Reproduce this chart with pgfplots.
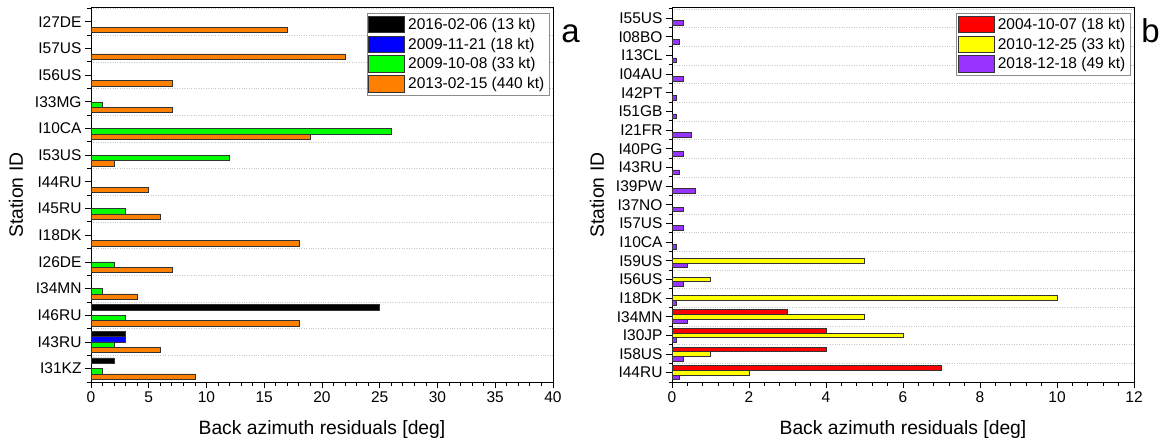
\documentclass[border=0pt]{standalone}
\usepackage{pgfplots}
\pgfplotsset{compat=1.18}
\usepackage{fontspec}
\setmainfont{Liberation Sans}
\definecolor{cOrange}{RGB}{255,128,0}
\definecolor{cGreen}{RGB}{0,255,0}
\definecolor{cBlue}{RGB}{0,0,255}
\definecolor{cBlack}{RGB}{0,0,0}
\definecolor{cRed}{RGB}{255,0,0}
\definecolor{cYellow}{RGB}{255,255,0}
\definecolor{cPurple}{RGB}{153,51,255}
\pgfplotsset{
 common/.style={
  scale only axis, width=462bp, height=374bp, xbar,
  xmin=0,
  /pgf/number format/assume math mode=true,
  tick label style={font=\fontsize{15.5bp}{18bp}\selectfont},
  label style={font=\fontsize{19.3bp}{22bp}\selectfont},
  xlabel={Back azimuth residuals [deg]},
  ylabel={Station ID},
  xlabel style={at={(axis description cs:0.5,-0.1257)}, anchor=center},
  ylabel style={at={(axis description cs:-0.1623,0.5)}, anchor=center},
  tick align=outside,
  xtick pos=bottom, ytick pos=left,
  major tick length=6bp, minor tick length=3.5bp,
  minor x tick num=4,
  yminorgrids=true,
  minor grid style={dotted, black!22, line width=0.6bp},
  tick style={black, line width=0.9bp},
  axis line style={line width=1bp},
  legend cell align=left,
  legend style={font=\fontsize{15.5bp}{18bp}\selectfont, draw=black!45, line width=0.8bp,
    at={(rel axis cs:0.992,0.987)}, anchor=north east, inner sep=1bp, row sep=0bp,
    nodes={inner sep=3.6bp}},
  legend image code/.code={\draw[##1,draw=black!80,line width=0.6bp] (0bp,-8.3bp) rectangle (36bp,8.3bp);},
 },
 bars/.style={draw=black!80, line width=0.6bp},
}
\begin{document}
\begin{tikzpicture}
\useasboundingbox (0,0) rectangle (1161bp,443bp);
\begin{axis}[common, at={(91bp,61bp)}, anchor=south west,
  xmax=40, xtick={0,5,...,40},
  ymin=-0.5, ymax=13.52, bar width=0.2,
  ytick={0,...,13},
  yticklabels={I31KZ,I43RU,I46RU,I34MN,I26DE,I18DK,I45RU,I44RU,I53US,I10CA,I33MG,I56US,I57US,I27DE},
  minor ytick={-0.5,0.5,...,13.5},
]
\addplot[bars, fill=cBlack, bar shift=0.3] coordinates {(2,0) (3,1) (25,2)};
\addplot[bars, fill=cBlue, bar shift=0.1] coordinates {(3,1)};
\addplot[bars, fill=cGreen, bar shift=-0.1] coordinates {(1,0) (2,1) (3,2) (1,3) (2,4) (3,6) (12,8) (26,9) (1,10)};
\addplot[bars, fill=cOrange, bar shift=-0.3] coordinates {(9,0) (6,1) (18,2) (4,3) (7,4) (18,5) (6,6) (5,7) (2,8) (19,9) (7,10) (7,11) (22,12) (17,13)};
\legend{2016-02-06 (13 kt),2009-11-21 (18 kt),2009-10-08 (33 kt),2013-02-15 (440 kt)}
\end{axis}
\begin{axis}[common, at={(672bp,61bp)}, anchor=south west,
  xmax=12, xtick={0,2,...,12},
  ymin=-0.5, ymax=19.55, bar width=0.25,
  ytick={0,...,19},
  yticklabels={I44RU,I58US,I30JP,I34MN,I18DK,I56US,I59US,I10CA,I57US,I37NO,I39PW,I43RU,I40PG,I21FR,I51GB,I42PT,I04AU,I13CL,I08BO,I55US},
  minor ytick={-0.5,0.5,...,19.5},
]
\addplot[bars, fill=cRed, bar shift=0.25] coordinates {(7,0) (4,1) (4,2) (3,3)};
\addplot[bars, fill=cYellow, bar shift=0] coordinates {(2,0) (1,1) (6,2) (5,3) (10,4) (1,5) (5,6)};
\addplot[bars, fill=cPurple, bar shift=-0.25] coordinates {(0.2,0) (0.3,1) (0.1,2) (0.4,3) (0.1,4) (0.3,5) (0.4,6) (0.1,7) (0.3,8) (0.3,9) (0.6,10) (0.2,11) (0.3,12) (0.5,13) (0.1,14) (0.1,15) (0.3,16) (0.1,17) (0.2,18) (0.3,19)};
\legend{2004-10-07 (18 kt),2010-12-25 (33 kt),2018-12-18 (49 kt)}
\end{axis}
\node[font=\fontsize{33bp}{36bp}\selectfont, anchor=center] at (570.5bp,409.5bp) {a};
\node[font=\fontsize{33bp}{36bp}\selectfont, anchor=center] at (1150.5bp,412.5bp) {b};
\end{tikzpicture}
\end{document}
